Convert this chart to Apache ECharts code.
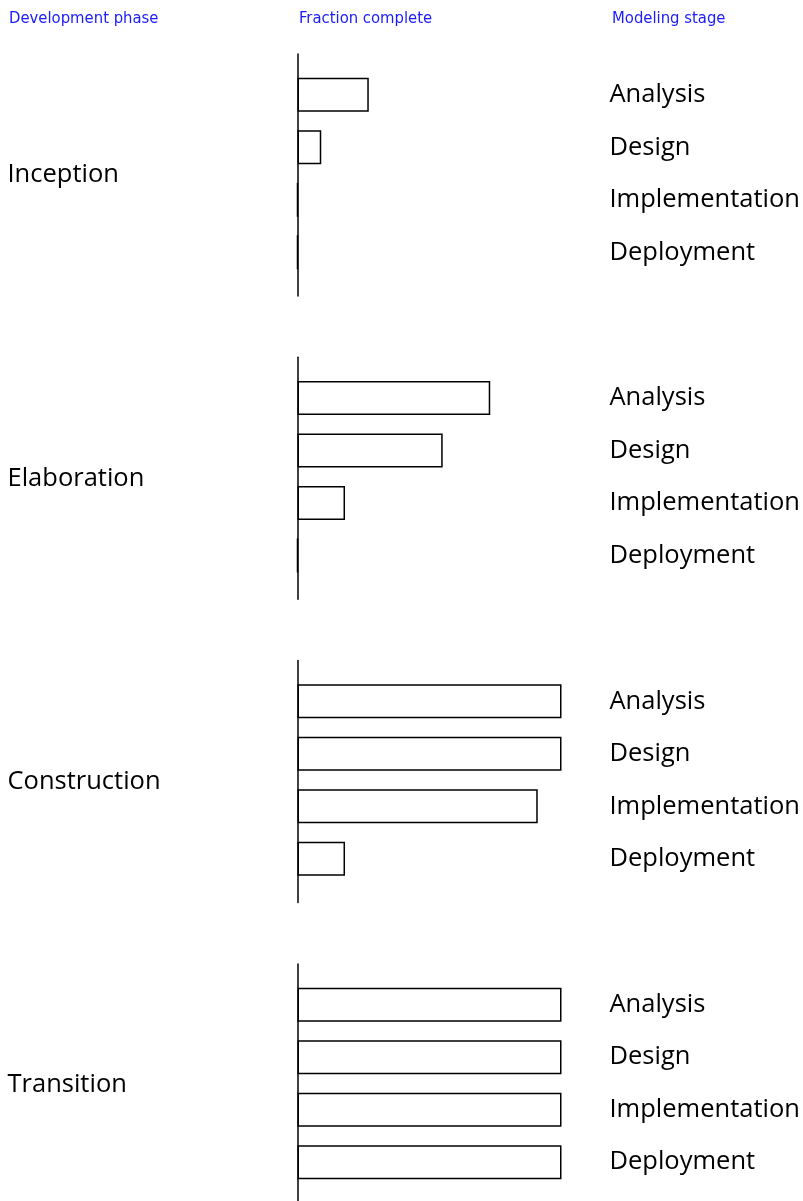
<!DOCTYPE html>
<html>
<head>
    <meta charset="utf-8">
    <title>Fraction complete</title>
    <script src="https://cdn.jsdelivr.net/npm/echarts@6/dist/echarts.min.js"></script>
    <style>
        body { margin: 0; background: #fff; }
        #main { width: 803px; height: 1201px; }
    </style>
</head>
<body>
<div id="main"></div>
<script>
    // phases and stages
    var phases = ['Inception', 'Elaboration', 'Construction', 'Transition'];
    var stages = ['Analysis', 'Design', 'Implementation', 'Deployment'];

    // fraction complete per stage, one array per phase
    var inception = [0.27, 0.09, 0, 0];
    var elaboration = [0.73, 0.55, 0.18, 0];
    var construction = [1, 1, 0.91, 0.18];
    var transition = [1, 1, 1, 1];
    var values = [inception, elaboration, construction, transition];

    var headers = ['Development phase', 'Fraction complete', 'Modeling stage'];

    var labelFont = '"Open Sans", "Noto Sans", sans-serif';
    var step = 303.3;

    var grids = [], xAxes = [], yAxes = [], series = [];
    phases.forEach(function (p, g) {
        // grid for bars
        grids.push({ left: 297.5, width: 264, top: 68.5 + step * g, height: 210, outerBoundsMode: 'none', containLabel: false });
        // grid only for the longer axis line and the phase label
        grids.push({ left: 297.5, width: 264, top: 54 + step * g, height: 242, outerBoundsMode: 'none', containLabel: false });

        xAxes.push({ gridIndex: 2 * g, type: 'value', min: 0, max: 1, show: false });
        xAxes.push({ gridIndex: 2 * g + 1, type: 'value', min: 0, max: 1, show: false });

        yAxes.push({
            gridIndex: 2 * g, type: 'category', data: stages, inverse: true,
            position: 'right',
            axisLine: { show: false }, axisTick: { show: false },
            axisLabel: { margin: 48, align: 'left', color: '#000', fontSize: 25.5, fontFamily: labelFont, padding: [5, 0, 0, 0] }
        });
        yAxes.push({
            gridIndex: 2 * g + 1, type: 'category', data: [p],
            axisLine: { show: true, lineStyle: { color: '#000', width: 1.5 } },
            axisTick: { show: false },
            axisLabel: { margin: 290, align: 'left', color: '#000', fontSize: 25.5, fontFamily: labelFont, padding: [8, 0, 0, 0] }
        });

        series.push({
            type: 'bar',
            xAxisIndex: 2 * g,
            yAxisIndex: 2 * g,
            data: values[g],
            barWidth: 34,
            silent: true,
            itemStyle: { color: '#fff', borderColor: '#000', borderWidth: 1.5 }
        });
    });

    var lefts = [9, 299, 612];
    var titles = headers.map(function (h, i) {
        return {
            text: h, left: lefts[i], top: 10, padding: 0,
            textStyle: {
                color: '#1a1aff', fontSize: 16.5, fontWeight: 'normal',
                fontFamily: '"DejaVu Sans Condensed", sans-serif'
            }
        };
    });

    var myChart = echarts.init(document.getElementById('main'));
    myChart.setOption({
        animation: false,
        title: titles,
        grid: grids,
        xAxis: xAxes,
        yAxis: yAxes,
        series: series
    });
</script>
</body>
</html>
